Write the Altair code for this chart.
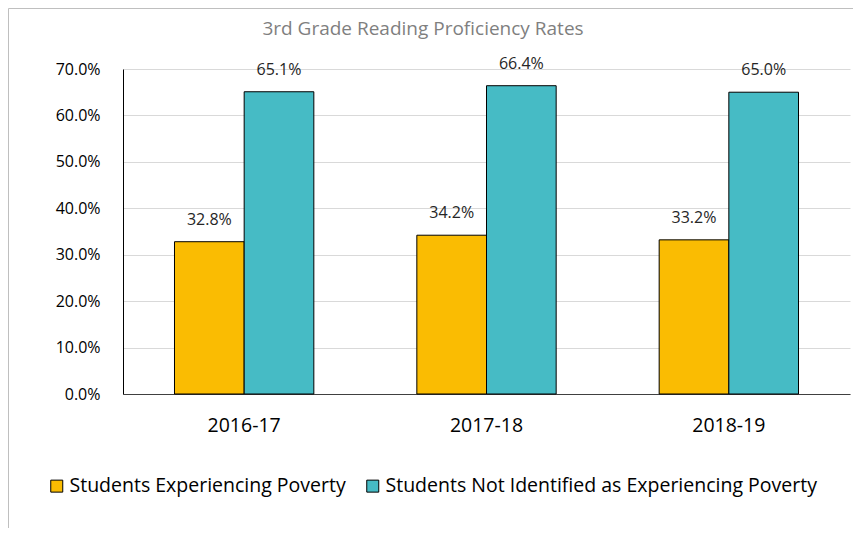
import altair as alt
import pandas as pd

years = ["2016-17", "2017-18", "2018-19"]
groups = ["Students Experiencing Poverty", "Students Not Identified as Experiencing Poverty"]
poverty = [0.328, 0.342, 0.332]
not_poverty = [0.651, 0.664, 0.650]
colors = ["#FABC02", "#46BBC5"]
title_text = "3rd Grade Reading Proficiency Rates"

rows = []
for i, y in enumerate(years):
    rows.append({"year": y, "group": groups[0], "order": 0, "value": poverty[i]})
    rows.append({"year": y, "group": groups[1], "order": 1, "value": not_poverty[i]})
df = pd.DataFrame(rows)

W, H = 727, 325
FONT = "Open Sans"

x_enc = alt.X("year:N", sort=years, title=None,
              scale=alt.Scale(paddingInner=0.425, paddingOuter=0.2125),
              axis=alt.Axis(labelAngle=0, labelFontSize=19.5, labelColor="#000000",
                            labelFont=FONT, labelPadding=22, ticks=False,
                            domainColor="#404040", domainWidth=1, grid=False))
y_enc = alt.Y("value:Q", title=None,
              scale=alt.Scale(domain=[0, 0.7], nice=False),
              axis=alt.Axis(format=".1%", values=[0, 0.1, 0.2, 0.3, 0.4, 0.5, 0.6, 0.7],
                            labelFontSize=16, labelColor="#000000", labelFont=FONT,
                            labelPadding=23, ticks=False, domainColor="#000000",
                            gridColor="#D9D9D9", gridWidth=1))

base = alt.Chart(df).encode(
    x=x_enc,
    xOffset=alt.XOffset("group:N", sort=groups),
)

bars = base.mark_bar(stroke="#000000", strokeWidth=1).encode(
    y=y_enc,
    color=alt.Color("group:N", sort=groups,
                    scale=alt.Scale(domain=groups, range=colors),
                    legend=alt.Legend(title=None, orient="none", direction="horizontal",
                                      legendX=-76, legendY=407,
                                      symbolType="square",
                                      symbolSize=144, symbolStrokeColor="#000000",
                                      symbolStrokeWidth=1, labelFontSize=19.5,
                                      labelFont=FONT, labelColor="#000000",
                                      labelOffset=3, columnPadding=17,
                                      labelLimit=700, padding=0)),
)

labels = base.mark_text(baseline="middle", dy=-22, fontSize=16, font=FONT,
                        color="#262626").encode(
    y="value:Q",
    text=alt.Text("value:Q", format=".1%"),
)

title_df = pd.DataFrame({"t": [title_text]})
title = alt.Chart(title_df).mark_text(fontSize=19, font=FONT, color="#7F7F7F",
                                     baseline="middle", align="center").encode(
    x=alt.value(300), y=alt.value(-40), text="t:N")

border = alt.Chart(title_df).mark_rect(fill=None, stroke="#BFBFBF", strokeWidth=1).encode(
    x=alt.value(-114.5), x2=alt.value(W + 40), y=alt.value(-60.5), y2=alt.value(H + 160))

chart = alt.layer(border, bars, labels, title).properties(
    width=W, height=H,
    autosize=alt.AutoSizeParams(type="none"),
    padding={"left": 115, "top": 61, "right": 3, "bottom": 134},
    background="#FFFFFF",
).configure_view(stroke=None)

chart.save("out.html", embed_options={"renderer": "svg", "actions": False})
